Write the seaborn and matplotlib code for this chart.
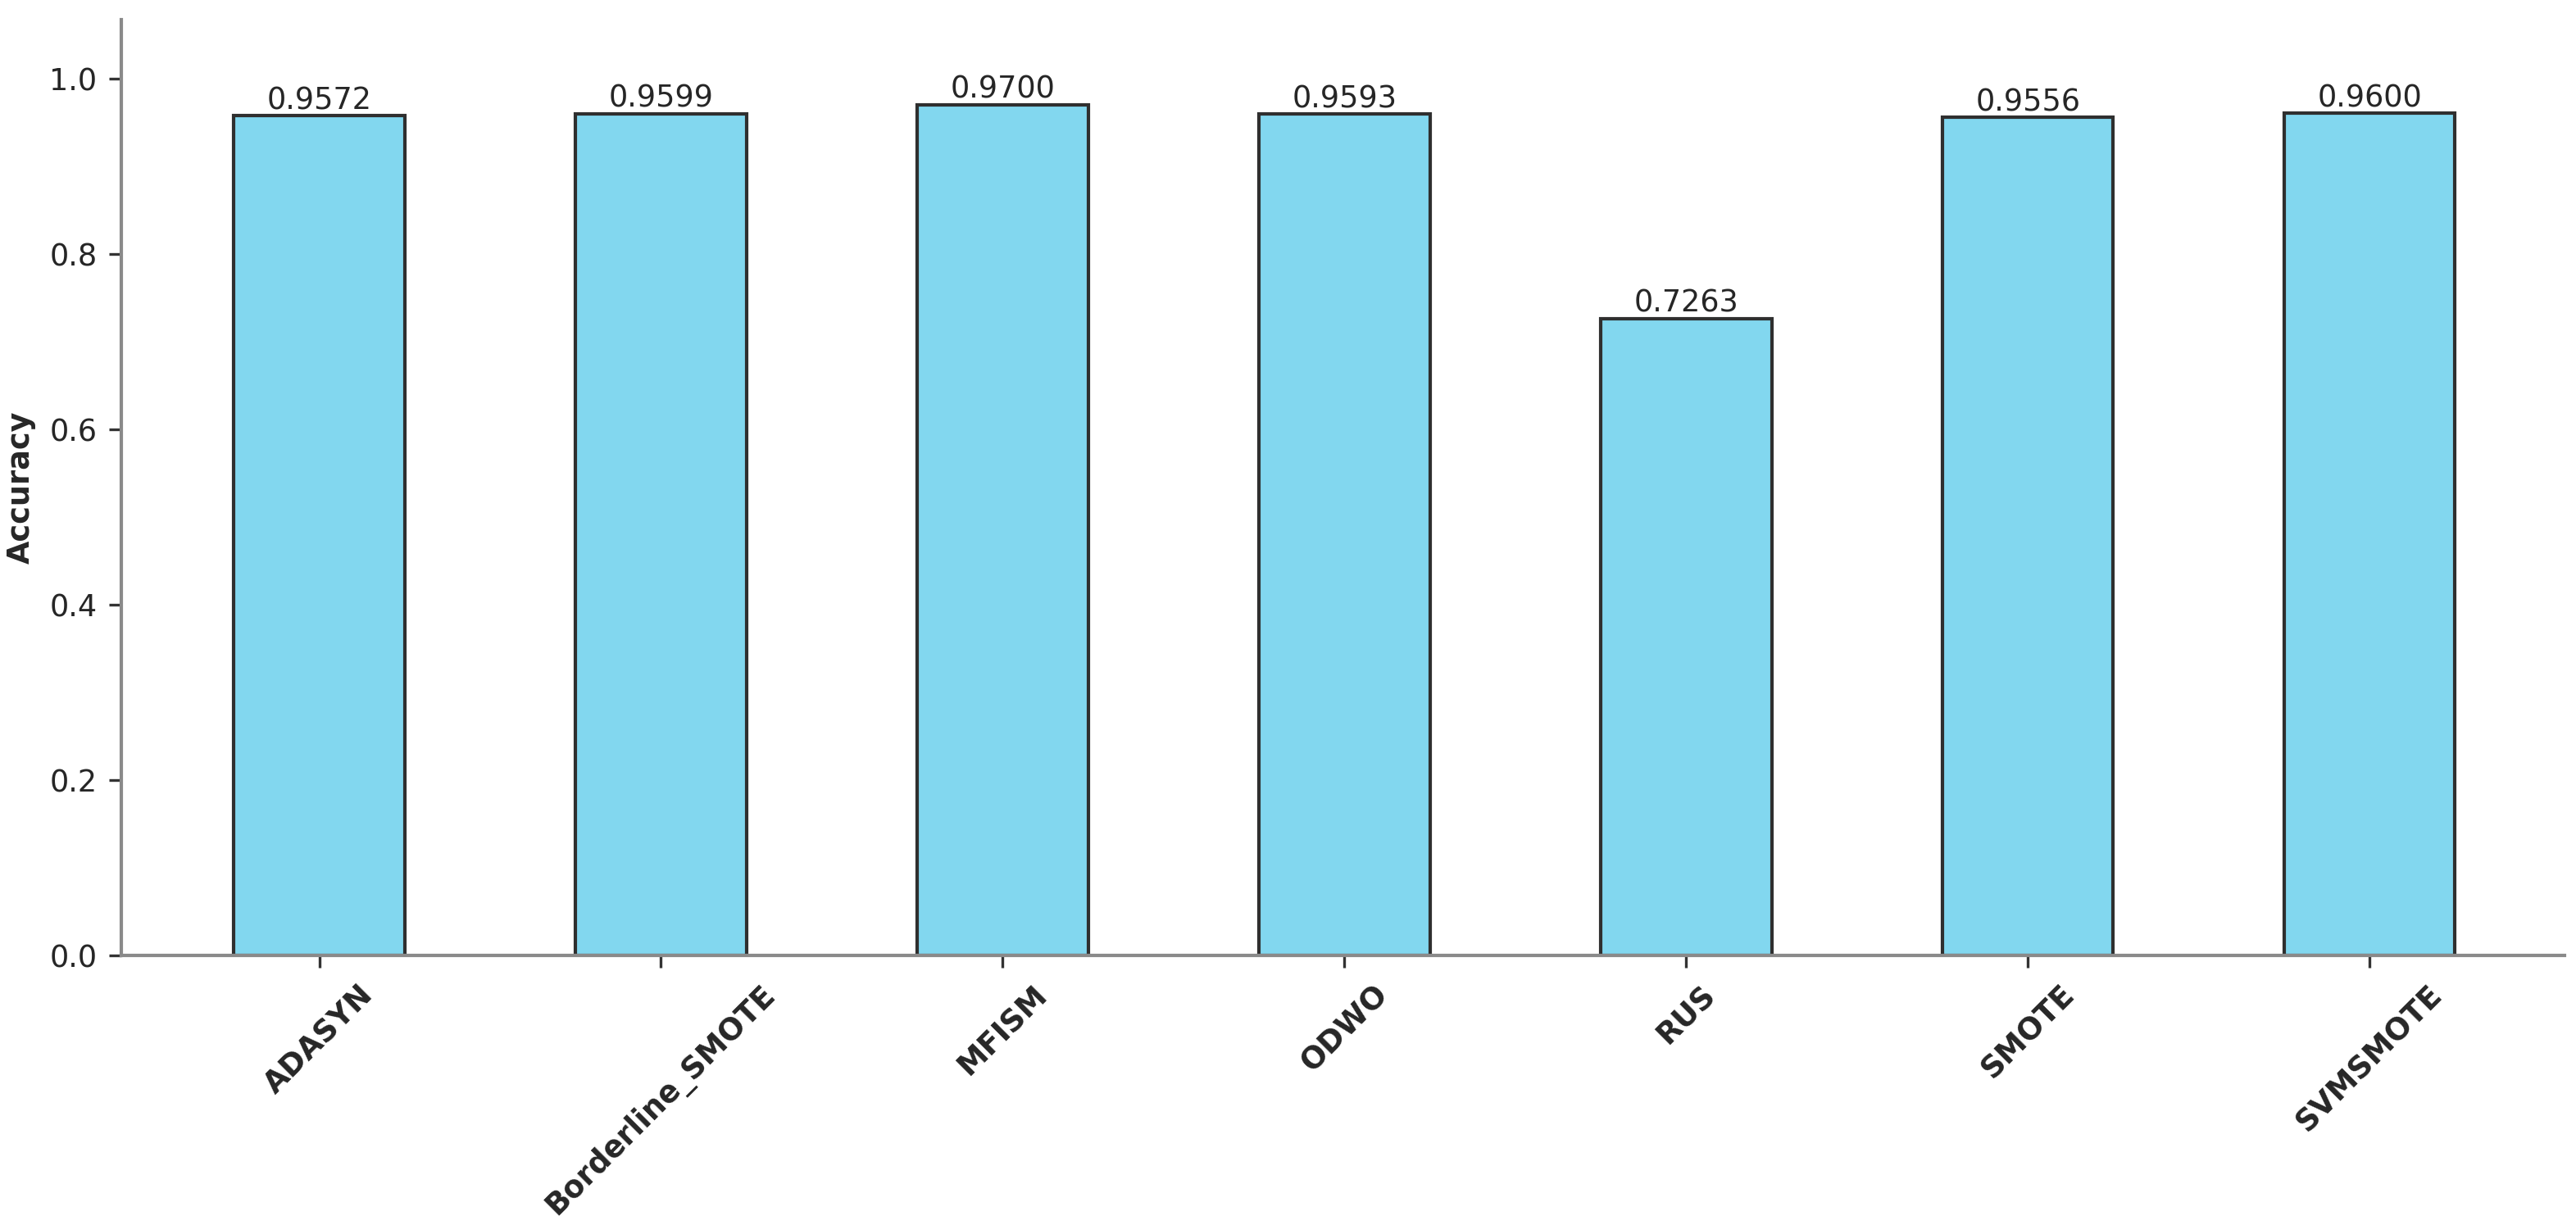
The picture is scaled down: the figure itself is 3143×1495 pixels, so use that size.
import pandas as pd
import matplotlib
matplotlib.use("Agg")
import matplotlib.pyplot as plt
import seaborn as sns

# accuracy per resampling method
methods = ["ADASYN", "Borderline_SMOTE", "MFISM", "ODWO", "RUS", "SMOTE", "SVMSMOTE"]
accuracy = [0.9572, 0.9599, 0.9700, 0.9593, 0.7263, 0.9556, 0.9600]

BAR_COLOR = "#82D7EF"
FONT_SIZE = 8.8


def plot_accuracy(df):
    """Bar chart of accuracy by method."""
    sns.set_theme(style="white")
    plt.rcParams["font.family"] = ["DejaVu Sans"]
    fig = plt.figure(figsize=(3143 / 300, 1495 / 300), dpi=300)
    ax = fig.add_axes([0.047, 0.22, 0.9485, 0.764])

    sns.barplot(
        data=df,
        x="Method",
        y="Accuracy",
        color=BAR_COLOR,
        width=0.5,
        edgecolor="#2f2f2f",
        linewidth=1.0,
        saturation=1,
        ax=ax,
    )
    ax.bar_label(ax.containers[0], fmt="%.4f", fontsize=FONT_SIZE, padding=0)

    ax.set_ylim(0, df["Accuracy"].max() * 1.1)
    ax.set_xlim(-0.58, len(df) - 0.43)
    ax.set_yticks([0.0, 0.2, 0.4, 0.6, 0.8, 1.0])
    ax.set_xlabel("")
    ax.set_ylabel("Accuracy", fontsize=FONT_SIZE, weight="bold", labelpad=4)
    ax.tick_params(axis="both", labelsize=FONT_SIZE, length=3.5, width=0.8,
                   color="#333333", bottom=True, left=True)
    plt.setp(ax.get_xticklabels(), rotation=45, ha="center", weight="bold")

    for side in ["top", "right"]:
        ax.spines[side].set_visible(False)
    for side in ["left", "bottom"]:
        ax.spines[side].set_color("#8a8a8a")
        ax.spines[side].set_linewidth(1.0)

    fig.savefig("out.png", dpi=300)


if __name__ == "__main__":
    data = pd.DataFrame({"Method": methods, "Accuracy": accuracy})
    plot_accuracy(data)
